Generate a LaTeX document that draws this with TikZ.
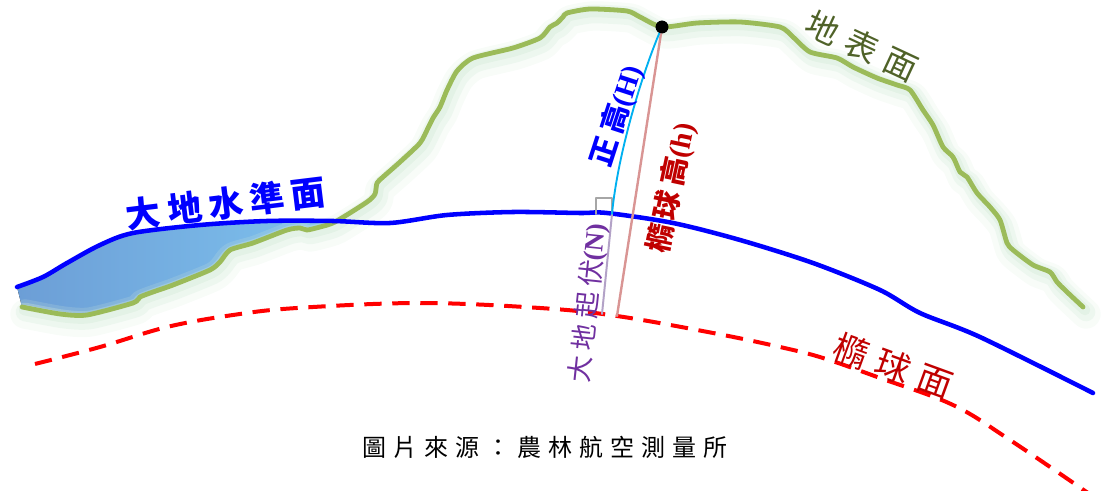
\documentclass[tikz,border=0pt]{standalone}
\usepackage{fontspec}
\newfontfamily\cjk[LetterSpace=20]{Noto Sans CJK TC}
\newfontfamily\cjkwide[LetterSpace=29]{Noto Sans CJK TC}
\newfontfamily\latin{Liberation Serif}
\definecolor{geoidblue}{RGB}{0,0,255}
\definecolor{terraingreen}{RGB}{155,187,89}
\definecolor{olivedrab}{RGB}{79,98,40}
\definecolor{ellipsred}{RGB}{255,0,0}
\definecolor{darkred}{RGB}{192,0,0}
\definecolor{deepsky}{RGB}{0,176,240}
\definecolor{rosybrown}{RGB}{217,149,148}
\definecolor{thistle}{RGB}{179,162,199}
\definecolor{darkorchid}{RGB}{112,48,160}
\definecolor{honeydew}{RGB}{214,236,218}
\definecolor{lakeleft}{RGB}{108,158,214}
\definecolor{lakeright}{RGB}{126,194,238}

% terrain profile, geoid and ellipsoid traced in pixel units
\newcommand\terrainline{plot[smooth,tension=0.4] coordinates {(22,307) (60,314) (87,315) (133,303) (140,297) (153,292) (173,285) (210,270) (220,262) (230,250) (253,243) (287,230) (300,228) (307,230) (320,227) (335,222) (367,202) (375,194) (377,183) (383,177) (400,162) (420,143) (428,128) (433,118) (440,107) (447,90) (457,71) (473,58) (513,48) (540,38) (550,27) (557,23) (563,17) (567,13) (590,9) (627,11) (640,17) (662,27) (697,23) (740,22) (780,27) (793,37) (810,52) (837,58) (853,67) (877,78) (897,85) (910,90) (923,110) (933,125) (943,147) (953,157) (960,172) (967,177) (977,193) (990,207) (1000,220) (1007,243) (1013,250) (1033,265) (1050,272) (1057,282) (1067,292) (1083,307)}}
\newcommand\geoidline{plot[smooth,tension=0.5] coordinates {(17,287) (43,277) (67,263) (100,245) (133,233) (200,225) (267,221) (333,221) (390,223) (447,215) (513,212) (580,213) (607,213) (673,223) (740,240) (813,263) (880,290) (920,313) (980,337) (1093,393)}}
\newcommand\ellipsline{plot[smooth,tension=0.6] coordinates {(35,364) (100,347) (167,327) (233,315) (297,308) (420,303) (540,308) (617,316) (713,333) (780,347) (823,358) (880,378) (953,405) (1010,440) (1088,493)}}

\begin{document}
\begin{tikzpicture}[x=0.75pt,y=-0.75pt,
	line join=round,line cap=round,
	tag/.style={inner sep=0pt,font=\cjk\bfseries\fontsize{26}{26}\selectfont},
	heighttag/.style={inner sep=0pt,font=\cjk\bfseries\fontsize{21.5}{21.5}\selectfont}]
	\useasboundingbox (0,0) rectangle (1105,491);

	% water below the geoid
	\fill[left color=lakeleft,right color=lakeright]
		plot[smooth,tension=0.5] coordinates {(17,287) (43,277) (67,263) (100,245) (133,233) (200,225) (267,221) (336,221)}
		-- plot[smooth,tension=0.4] coordinates {(336,222) (320,227) (307,230) (300,228) (287,230) (253,243) (230,250) (220,262) (210,270) (173,285) (153,292) (140,297) (133,303) (87,315) (60,314) (22,307)}
		-- cycle;

	% soft halo and terrain line
	\draw[honeydew,line width=22pt,opacity=0.18,shift={(3,7)}] \terrainline;
	\draw[honeydew,line width=14pt,opacity=0.3,shift={(3,5)}] \terrainline;
	\draw[honeydew,line width=8pt,opacity=0.45,shift={(2,3)}] \terrainline;
	\draw[terraingreen,line width=3.6pt] \terrainline;

	\draw[geoidblue,line width=3.4pt] \geoidline;
	\draw[ellipsred,line width=3pt,line cap=butt,dash pattern=on 13pt off 8pt] \ellipsline;

	\coordinate (geo) at (612,214);
	\coordinate (foot) at (602,314);
	\coordinate (ell) at (617,316);

	% right angle mark at the geoid
	\draw[gray!70,line width=0.8pt] (geo) ++(-16,0) -- ++(0,-16) -- ++(16,0) -- ++(0,16);

	\node (top)[shape=circle,fill=black,inner sep=0pt,minimum size=9.5pt] at (662,27) {};
	\draw[rosybrown,line width=1.8pt] (top.center) -- (ell);
	\draw[thistle,line width=1.5pt] (geo) -- (foot);
	\draw[deepsky,line width=1.4pt] (top.center) .. controls (645,65) and (618,150) .. (geo);
	\node[shape=circle,fill=black,inner sep=0pt,minimum size=9.5pt] at (top) {};

	% labels
	\node (geoidtag)[tag,text=geoidblue,rotate=7] at (226,203) {大地水準面};
	\node (terraintag)[tag,text=olivedrab,rotate=-25,font=\cjkwide\fontsize{25}{25}\selectfont] at (862,46) {地表面};
	\node (ellipstag)[tag,text=darkred,rotate=-20,font=\cjkwide\fontsize{26}{26}\selectfont] at (893,366) {橢球面};
	\node (Htag)[heighttag,text=geoidblue,rotate=72] at (617,116) {正高{\latin\bfseries(H)}};
	\node (htag)[heighttag,text=darkred,rotate=78] at (672,188) {橢球高{\latin\bfseries(h)}};
	\node (Ntag)[heighttag,text=darkorchid,rotate=84,font=\cjk\fontsize{20}{20}\selectfont] at (589,303) {大地起伏{\latin\bfseries(N)}};
	\node (source)[inner sep=0pt,font=\cjkwide\fontsize{18}{18}\selectfont] at (545,447) {圖片來源：農林航空測量所};
\end{tikzpicture}
\end{document}
